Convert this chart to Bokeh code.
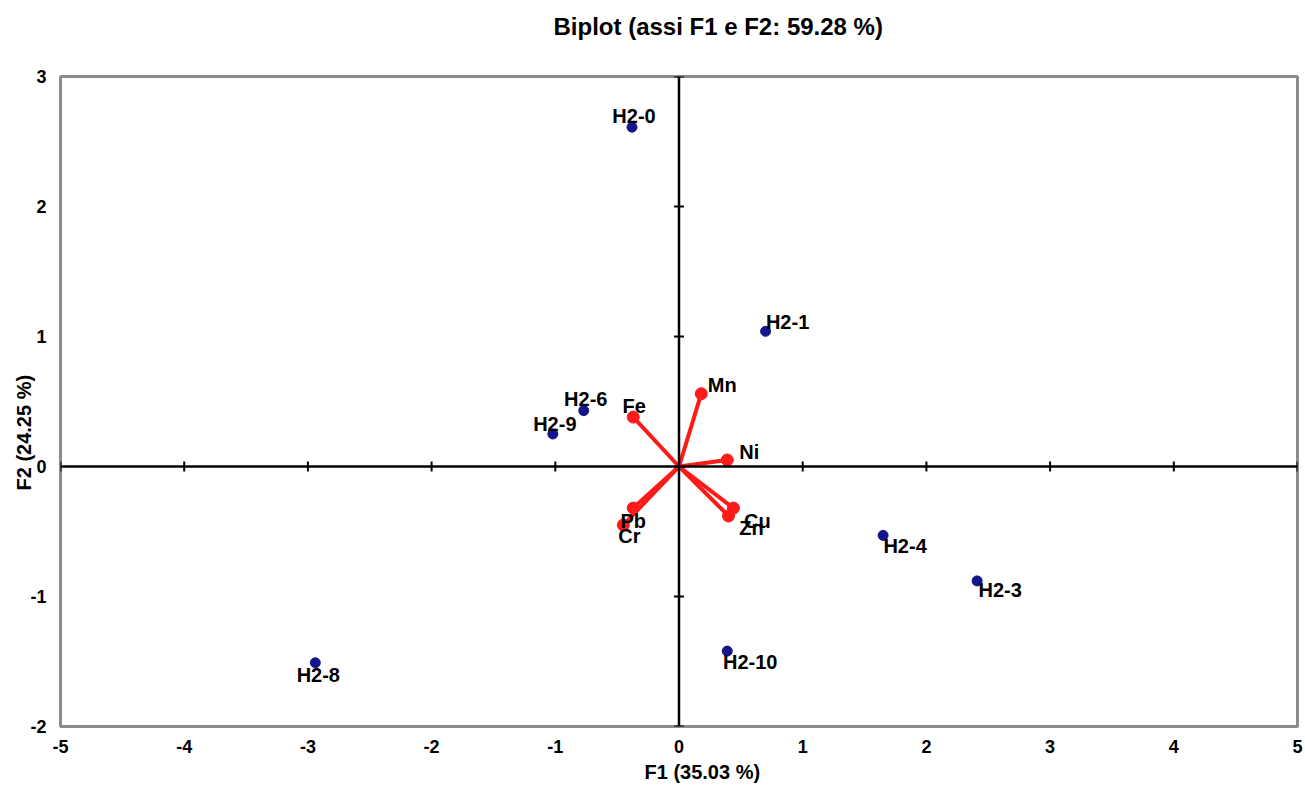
from bokeh.plotting import figure
from bokeh.models import ColumnDataSource, Span, Title, FixedTicker
from bokeh.embed import file_html
from bokeh.resources import INLINE
from bokeh.core.properties import value

# Observations (factor scores on F1 / F2)
obs_names = ["H2-0", "H2-1", "H2-6", "H2-9", "H2-4", "H2-3", "H2-10", "H2-8"]
obs_f1 = [-0.38, 0.70, -0.77, -1.02, 1.65, 2.41, 0.39, -2.94]
obs_f2 = [2.61, 1.04, 0.43, 0.25, -0.53, -0.88, -1.42, -1.51]

# Variables (loadings on F1 / F2)
var_names = ["Mn", "Fe", "Ni", "Cu", "Zn", "Pb", "Cr"]
var_f1 = [0.18, -0.37, 0.39, 0.44, 0.40, -0.37, -0.45]
var_f2 = [0.56, 0.38, 0.05, -0.32, -0.38, -0.32, -0.45]

x_ticks = [-5, -4, -3, -2, -1, 0, 1, 2, 3, 4, 5]
y_ticks = [-2, -1, 0, 1, 2, 3]

title_text = "Biplot (assi F1 e F2: 59.28 %)"
x_title = "F1 (35.03 %)"
y_title = "F2 (24.25 %)"

# label placement around each mark, in screen pixels (dx right, dy down)
label_shift = {
    "H2-0": (2, -11), "H2-1": (22, -9), "H2-6": (2, -12), "H2-9": (2, -10),
    "H2-4": (22, 11), "H2-3": (23, 9), "H2-10": (23, 11), "H2-8": (3, 12),
    "Mn": (21, -9), "Fe": (1, -11), "Ni": (22, -8), "Cu": (24, 13),
    "Zn": (23, 12), "Pb": (0, 13), "Cr": (6, 11),
}

FONT = "Liberation Sans"

p = figure(width=1305, height=787, output_backend="svg", toolbar_location=None,
           title=None,
           x_range=(x_ticks[0], x_ticks[-1]), y_range=(y_ticks[0], y_ticks[-1]),
           min_border_left=60, min_border_right=8, min_border_top=76, min_border_bottom=61)
p.xgrid.visible = False
p.ygrid.visible = False
p.outline_line_color = "#8c8c8c"
p.outline_line_width = 3
p.background_fill_color = "white"
p.border_fill_color = "white"

for ax, ticks in ((p.xaxis, x_ticks), (p.yaxis, y_ticks)):
    ax.ticker = FixedTicker(ticks=ticks)
    ax.major_label_overrides = {t: str(t) for t in ticks}
    ax.axis_line_color = None
    ax.major_tick_line_color = None
    ax.minor_tick_line_color = None
    ax.major_tick_in = 0
    ax.major_tick_out = 0
    ax.major_label_text_font = FONT
    ax.major_label_text_font_style = "bold"
    ax.major_label_text_font_size = "18px"
    ax.major_label_text_color = "black"
p.xaxis.major_label_standoff = 13
p.yaxis.major_label_standoff = 14

# chart title, kept clear of the frame by an empty spacer row
p.add_layout(Title(text=" ", text_font_size="1px", standoff=29), "above")
p.add_layout(Title(text=title_text, align="left", offset=493, standoff=10,
                   text_font=FONT, text_font_style="bold", text_font_size="24px",
                   text_color="black"), "above")

# axis titles
p.add_layout(Title(text=x_title, align="left", offset=584, standoff=7,
                   text_font=FONT, text_font_style="bold", text_font_size="20px",
                   text_color="black"), "below")
p.add_layout(Title(text=y_title, align="left", offset=236, standoff=-15,
                   text_font=FONT, text_font_style="bold", text_font_size="20px",
                   text_color="black"), "left")

# zero axes through the origin
p.add_layout(Span(location=0, dimension="width", line_color="black", line_width=2.5))
p.add_layout(Span(location=0, dimension="height", line_color="black", line_width=2.5))

# tick marks on the zero axes
p.scatter(x_ticks, [0] * len(x_ticks), marker="dash", angle=1.5708, size=10,
          line_color="black", line_width=2)
p.scatter([0] * len(y_ticks), y_ticks, marker="dash", size=10,
          line_color="black", line_width=2)

# variable vectors
vsrc = ColumnDataSource(dict(x0=[0] * len(var_names), y0=[0] * len(var_names),
                             x=var_f1, y=var_f2, name=var_names,
                             dx=[label_shift[n][0] for n in var_names],
                             dy=[label_shift[n][1] for n in var_names]))
p.segment("x0", "y0", "x", "y", source=vsrc, line_color="#ff1a1a", line_width=4)
p.scatter("x", "y", source=vsrc, size=12, fill_color="#ff1a1a", line_color="#ff1a1a")
p.text("x", "y", text="name", source=vsrc, x_offset="dx", y_offset="dy",
       text_align="center", text_baseline="middle", text_font=value(FONT),
       text_font_style="bold", text_font_size="20px", text_color="black")

# observations
osrc = ColumnDataSource(dict(x=obs_f1, y=obs_f2, name=obs_names,
                             dx=[label_shift[n][0] for n in obs_names],
                             dy=[label_shift[n][1] for n in obs_names]))
p.scatter("x", "y", source=osrc, size=10, fill_color="#14148c", line_color="#14148c")
p.text("x", "y", text="name", source=osrc, x_offset="dx", y_offset="dy",
       text_align="center", text_baseline="middle", text_font=value(FONT),
       text_font_style="bold", text_font_size="20px", text_color="black")

open("out.html", "w").write(file_html(p, INLINE))
